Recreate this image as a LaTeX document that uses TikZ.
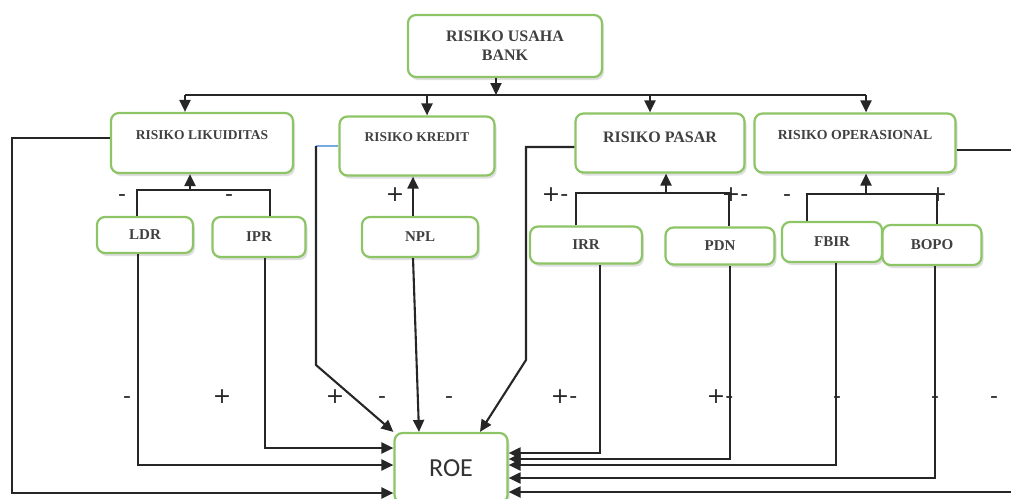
\documentclass[tikz,border=0pt]{standalone}
\usepackage{fontspec}
\newfontfamily\boxfont{Liberation Serif}
\newfontfamily\roefont{Carlito}
\newfontfamily\signfont{DejaVu Sans}
\usetikzlibrary{arrows.meta,shadows,positioning}
\definecolor{boxgreen}{RGB}{140,196,102}
\definecolor{linkblue}{RGB}{120,170,225}

\begin{document}
\begin{tikzpicture}[x=1pt,y=-1pt,
    box/.style={draw=boxgreen, line width=2.2pt, rounded corners=8pt, fill=white, align=center, text=black!75,
        font=\boxfont\bfseries\fontsize{15}{17}\selectfont,
        drop shadow={opacity=0.25, shadow xshift=2pt, shadow yshift=-3pt}},
    rbox/.style={box, text depth=16pt},
    ln/.style={draw=black!85, line width=2.1pt},
    arr/.style={ln, -{Triangle[length=12pt,width=11pt]}},
    blueln/.style={draw=linkblue, line width=2.1pt},
    sgn/.style={font=\signfont\fontsize{22}{24}\selectfont, inner sep=0pt, anchor=base, text=black!85}
]
\useasboundingbox (0,0) rectangle (1011,498);

% risk boxes
\node[box, minimum width=194pt, minimum height=62pt, font=\boxfont\bfseries\fontsize{16}{19}\selectfont] (usaha) at (505,46) {RISIKO USAHA\\BANK};
\node[rbox, minimum width=182pt, minimum height=60pt, font=\boxfont\bfseries\fontsize{13.5}{15}\selectfont] (lik) at (202,143) {RISIKO LIKUIDITAS};
\node[rbox, minimum width=155pt, minimum height=59pt, font=\boxfont\bfseries\fontsize{13.4}{15}\selectfont, text depth=18pt] (kre) at (417,146) {RISIKO KREDIT};
\node[rbox, minimum width=169pt, minimum height=59pt, font=\boxfont\bfseries\fontsize{16}{18}\selectfont, text depth=12pt] (pas) at (660,143) {RISIKO PASAR};
\node[rbox, minimum width=201pt, minimum height=59pt, font=\boxfont\bfseries\fontsize{13.8}{15}\selectfont] (ops) at (855,143) {RISIKO OPERASIONAL};

% ratio boxes
\node[box, minimum width=96pt, minimum height=36pt] (ldr) at (145,235) {LDR};
\node[box, minimum width=93pt, minimum height=40pt] (ipr) at (259,237) {IPR};
\node[box, minimum width=116pt, minimum height=40pt] (npl) at (420,237) {NPL};
\node[box, minimum width=112pt, minimum height=37pt] (irr) at (586,245) {IRR};
\node[box, minimum width=109pt, minimum height=37pt] (pdn) at (720,246) {PDN};
\node[box, minimum width=100pt, minimum height=40pt] (fbir) at (832,242) {FBIR};
\node[box, minimum width=99pt, minimum height=40pt] (bopo) at (932,245) {BOPO};

\node[box, minimum width=113pt, minimum height=70pt, font=\roefont\fontsize{26}{28}\selectfont, text=black!80] (roe) at (451,468) {ROE};

% top bus
\coordinate (bus) at (496,95);
\coordinate (busL) at (185,95);
\coordinate (busR) at (866,95);
\draw[arr] (usaha.south -| bus) -- (bus);
\draw[ln] (busL) -- (busR);
\draw[arr] (busL) -- (busL |- lik.north);
\draw[arr] ([xshift=10pt]kre.north |- bus) -- ([xshift=10pt]kre.north);
\draw[arr] ([xshift=-10pt]pas.north |- bus) -- ([xshift=-10pt]pas.north);
\draw[arr] (busR) -- (busR |- ops.north);

% ratios up to risks
\coordinate (jLik) at (190,190);
\coordinate (jPas) at (666,193);
\coordinate (jOps) at (866,194);
\draw[ln] ([xshift=-8pt]ldr.north) |- (jLik) -| ([xshift=11pt]ipr.north);
\draw[arr] (jLik) -- (jLik |- lik.south);
\draw[arr] ([xshift=-7pt]npl.north) -- ([xshift=-7pt]npl.north |- kre.south);
\draw[ln] ([xshift=-10pt]irr.north) |- (jPas) -| ([xshift=9pt]pdn.north);
\draw[arr] (jPas) -- (jPas |- pas.south);
\draw[ln] ([xshift=-25pt]fbir.north) |- (jOps) -| ([xshift=5pt]bopo.north);
\draw[arr] (jOps) -- (jOps |- ops.south);

% everything down to ROE
\coordinate (cLik) at (12,138);
\coordinate (kL) at (316,146);
\coordinate (kD) at (316,365);
\coordinate (pL) at (526,147);
\coordinate (pD) at (526,360);
\coordinate (cOps) at (1020,150);
\draw[arr] ([yshift=5pt]lik.west) -- (cLik) |- ([yshift=-25pt]roe.west);
\draw[arr] ([xshift=-7pt]ldr.south) |- ([yshift=3pt]roe.west);
\draw[arr] ([xshift=6pt]ipr.south) |- ([yshift=20pt]roe.west);
\draw[blueln] (kre.west) -- (kL);
\draw[arr] (kL) -- (kD) -- (roe.north west);
\draw[arr] ([xshift=-7pt]npl.south) -- ([xshift=-32pt]roe.north);
\draw[arr] ([yshift=-4pt]pas.west) -- (pL) -- (pD) -- ([xshift=29pt]roe.north);
\draw[arr] ([xshift=14pt]irr.south) |- ([yshift=15pt]roe.east);
\draw[arr] ([xshift=10pt]pdn.south) |- ([yshift=9pt]roe.east);
\draw[arr] ([xshift=4pt]fbir.south) |- ([yshift=3pt]roe.east);
\draw[arr] ([xshift=3pt]bopo.south) |- ([yshift=-10pt]roe.east);
\draw[arr] ([yshift=-7pt]ops.east) -- (cOps) |- ([yshift=-24pt]roe.east);

% signs
\foreach \x/\s [count=\i] in {122/-,229/-,395/+,555/+-,735/+-,787/-,938/+}
  \node[sgn] (up\i) at (\x,201) {\s};
\foreach \x/\s [count=\i] in {127/-,222/+,335/+,382/-,449/-,564/+-,720/+-,837/-,935/-,994/-}
  \node[sgn] (low\i) at (\x,403) {\s};
\end{tikzpicture}
\end{document}
